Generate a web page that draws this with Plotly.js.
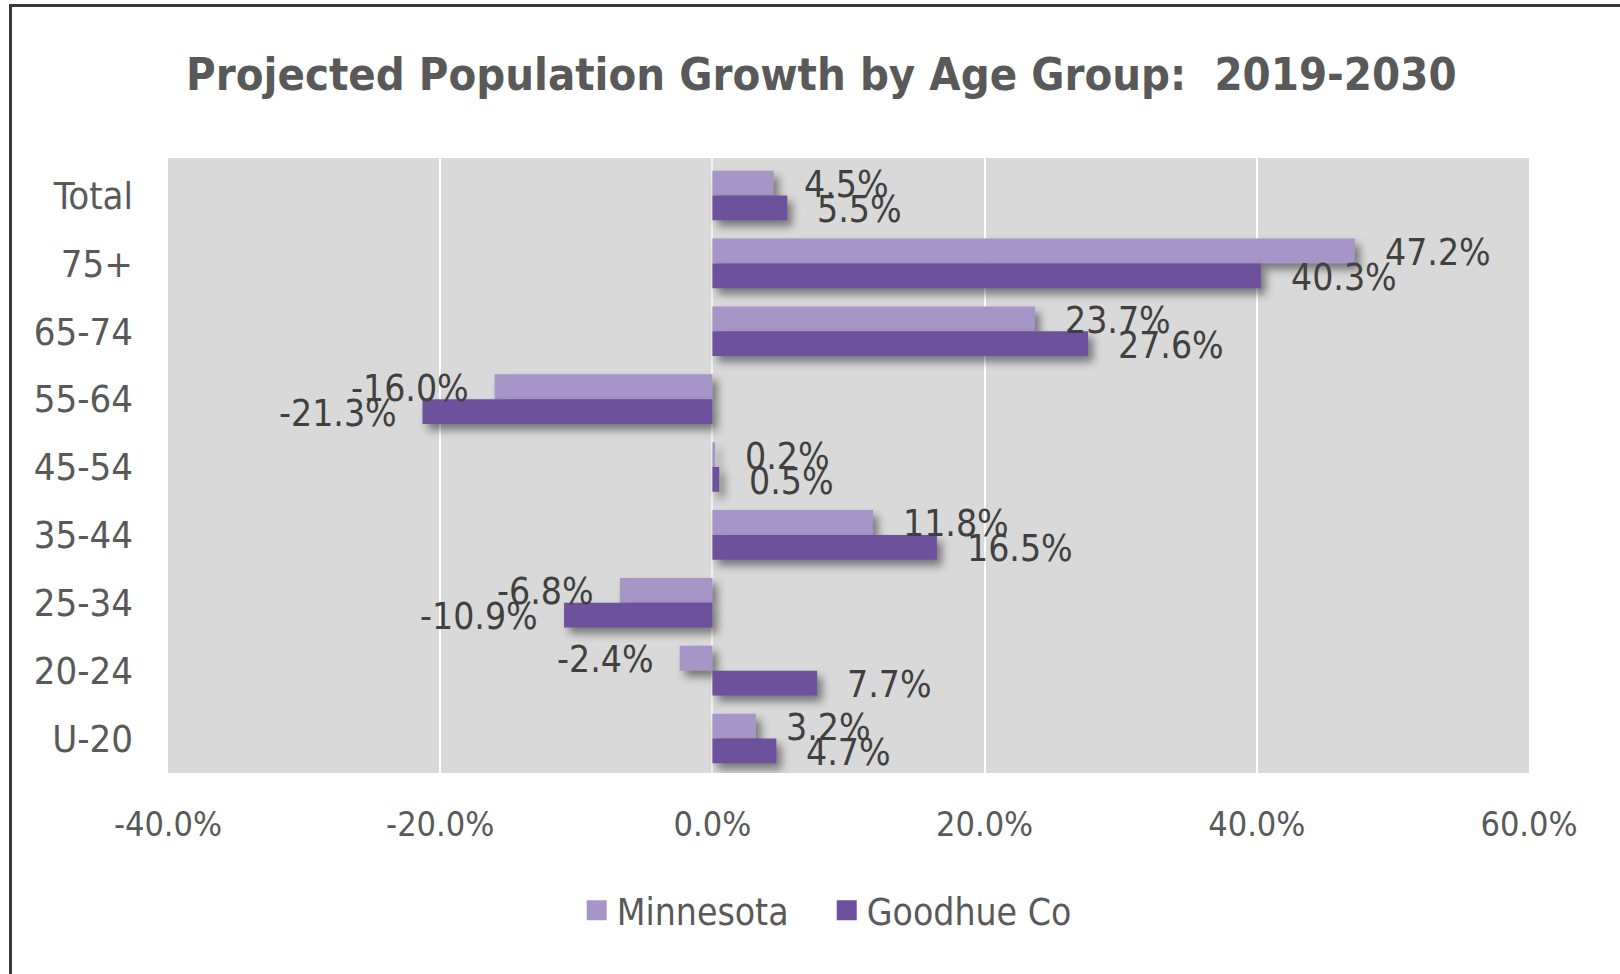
<!DOCTYPE html>
<html>
<head>
<meta charset="utf-8">
<script src="https://cdn.plot.ly/plotly-3.0.1.min.js"></script>
<style>
  html, body { margin: 0; padding: 0; background: #fff; }
  #wrap { position: relative; width: 1620px; height: 974px; }
  #chart { width: 1620px; height: 974px; }
  #frame { position: absolute; left: 9px; top: 4px; right: 0; bottom: 0;
           border-left: 3px solid #3a3a3a; border-top: 3px solid #3a3a3a; pointer-events: none; }
  .barlayer .point path { filter: drop-shadow(5px 6px 4px rgba(0,0,0,0.45)); }
</style>
</head>
<body>
<div id="wrap">
  <div id="chart"></div>
  <div id="frame"></div>
</div>
<script>
const categories = ['Total', '75+', '65-74', '55-64', '45-54', '35-44', '25-34', '20-24', 'U-20'];
const minnesota = [4.5, 47.2, 23.7, -16.0, 0.2, 11.8, -6.8, -2.4, 3.2];
const goodhue   = [5.5, 40.3, 27.6, -21.3, 0.5, 16.5, -10.9, 7.7, 4.7];
const seriesNames = ['Minnesota', 'Goodhue Co'];
const xTickVals = [-40, -20, 0, 20, 40, 60];
const xTickText = xTickVals.map(v => v.toFixed(1) + '%');

const FONT = '"Liberation Sans Narrow", "DejaVu Sans Condensed", "Open Sans", sans-serif';
const lightColor = '#A696C8';
const darkColor = '#6E519C';

const traces = [
  { type: 'bar', orientation: 'h', name: seriesNames[0], y: categories, x: minnesota,
    marker: { color: lightColor }, hoverinfo: 'x+y' },
  { type: 'bar', orientation: 'h', name: seriesNames[1], y: categories, x: goodhue,
    marker: { color: darkColor }, hoverinfo: 'x+y' }
];

function labels(vals, yshift) {
  return vals.map((v, i) => ({
    x: v, y: categories[i], xref: 'x', yref: 'y',
    text: v.toFixed(1) + '%', showarrow: false,
    xanchor: v >= 0 ? 'left' : 'right',
    xshift: v >= 0 ? 28 : -24,
    yshift: yshift,
    font: { family: FONT, size: 37, color: '#404040' }
  }));
}

const layout = {
  width: 1620, height: 974,
  margin: { l: 168, r: 91, t: 158, b: 201 },
  paper_bgcolor: '#ffffff',
  plot_bgcolor: '#D9D9D9',
  title: {
    text: '<b>Projected Population Growth by Age Group:  2019-2030</b>',
    font: { family: FONT, size: 45, color: '#595959' },
    x: 0.507, xref: 'container', xanchor: 'center',
    y: 0.924, yref: 'container', yanchor: 'middle'
  },
  barmode: 'group',
  bargap: 0.27,
  bargroupgap: 0,
  xaxis: {
    range: [-40, 60], tickmode: 'array', tickvals: xTickVals, ticktext: xTickText,
    showgrid: true, gridcolor: '#ffffff', gridwidth: 2,
    zeroline: true, zerolinecolor: '#f2f2f2', zerolinewidth: 2,
    showline: false, ticks: '',
    tickfont: { family: FONT, size: 34, color: '#595959' },
    ticklabelstandoff: 28
  },
  yaxis: {
    type: 'category', autorange: 'reversed',
    showgrid: false, zeroline: false, showline: false, ticks: '',
    tickfont: { family: FONT, size: 38, color: '#595959' },
    ticklabelstandoff: 34
  },
  legend: {
    orientation: 'h', x: 0.484, xanchor: 'center', y: -0.224, yanchor: 'middle',
    font: { family: FONT, size: 37, color: '#595959' },
    entrywidth: 205, entrywidthmode: 'pixels'
  },
  annotations: labels(minnesota, 11).concat(labels(goodhue, -14)),
  showlegend: true
};

Plotly.newPlot('chart', traces, layout, { displayModeBar: false, staticPlot: true }).then(gd => {
  // enlarge legend swatches to match the reference's larger squares
  document.querySelectorAll('.legendpoints path').forEach(p => {
    p.setAttribute('d', 'M10,10H-10V-10H10Z');
  });
});
</script>
</body>
</html>
